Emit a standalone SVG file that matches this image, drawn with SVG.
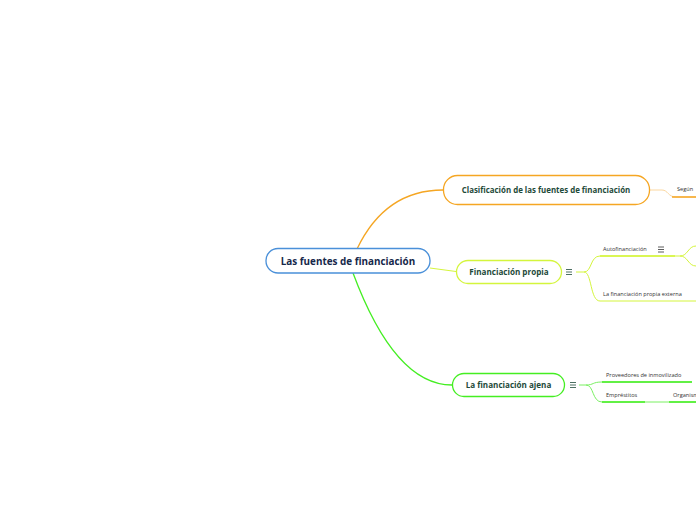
<svg xmlns="http://www.w3.org/2000/svg" width="696" height="520" viewBox="0 0 696 520">
<style>
.node{fill:#fff;stroke-width:1.3}
.t{font-family:"Open Sans","Noto Sans",sans-serif;font-weight:700;fill:#1e4a3a;text-anchor:middle}
.s{font-family:"Open Sans","Noto Sans",sans-serif;font-size:5.6px;fill:#333}
.c{fill:none}
.ic{stroke:#1e4a3a;stroke-width:0.8}
</style>
<rect width="696" height="520" fill="#fff"/>
<g id="connectors">
<path class="c" d="M357,249 C378,205 410,190 443,190" stroke="#f5a623" stroke-width="1.3"/>
<path class="c" d="M353,273 C378,340 410,385 452,385" stroke="#44ee22" stroke-width="1.3"/>
<path class="c" d="M430,268 L456,271.5" stroke="#d4f53c" stroke-width="1"/>
<path class="c" d="M650,190 L662,190 C668,190 668,197 676,197 L696,197" stroke="#fbd7a0" stroke-width="1"/>
<path class="c" d="M672,197 L696,197" stroke="#f5a623" stroke-width="1.5"/>
<path class="c" d="M576,272 L584,272 C592,272 590,256 600,256 L680,256" stroke="#d4f53c" stroke-width="1"/>
<path class="c" d="M584,272 C592,272 590,301 600,301 L696,301" stroke="#d4f53c" stroke-width="1"/>
<path class="c" d="M600,256 L675,256" stroke="#d4f53c" stroke-width="1.5"/>
<path class="c" d="M680,256 C688,256 688,246 696,246" stroke="#d4f53c" stroke-width="1"/>
<path class="c" d="M680,256 C688,256 688,266 696,266" stroke="#d4f53c" stroke-width="1"/>
<path class="c" d="M579,385 L586,385 C594,385 592,382 602,382 L692,382" stroke="#7af062" stroke-width="1"/>
<path class="c" d="M586,385 C594,385 592,402 602,402 L696,402" stroke="#7af062" stroke-width="1"/>
<path class="c" d="M602,382 L692,382" stroke="#44ee22" stroke-width="1.5"/>
<path class="c" d="M602,402 L645,402 M669,402 L696,402" stroke="#44ee22" stroke-width="1.5"/>
</g>
<g id="root">
<rect class="node" x="266" y="248.5" width="164" height="24.5" rx="12" stroke="#4a90d9"/>
<text x="348" y="264.5" class="t" style="font-size:9.9px;fill:#16284a">Las fuentes de financiación</text>
</g>
<g id="clasificacion">
<rect class="node" x="443.5" y="175.5" width="206" height="29" rx="14" stroke="#f5a623"/>
<text x="546" y="193" class="t" style="font-size:7.9px">Clasificación de las fuentes de financiación</text>
</g>
<g id="segun">
<text x="677" y="191" class="s">Según</text>
</g>
<g id="propia">
<rect class="node" x="456.5" y="260.5" width="105" height="23" rx="11.5" stroke="#d4f53c"/>
<text x="509" y="275" class="t" style="font-size:8.1px">Financiación propia</text>
<path class="ic" d="M566,269.5 h6 M566,272 h6 M566,274.5 h6"/>
</g>
<g id="autofinanciacion">
<text x="603" y="251" class="s">Autofinanciación</text>
<path class="ic" d="M658,247 h6 M658,249.5 h6 M658,252 h6" style="stroke:#333"/>
</g>
<g id="externa">
<text x="603" y="296" class="s">La financiación propia externa</text>
</g>
<g id="ajena">
<rect class="node" x="452.5" y="373.5" width="112" height="23" rx="11.5" stroke="#44ee22"/>
<text x="508.5" y="388" class="t" style="font-size:8.1px">La financiación ajena</text>
<path class="ic" d="M570,382.5 h6 M570,385 h6 M570,387.5 h6"/>
</g>
<g id="proveedores">
<text x="606" y="377" class="s">Proveedores de inmovilizado</text>
</g>
<g id="emprestitos">
<text x="606" y="397" class="s">Empréstitos</text>
</g>
<g id="organismos">
<text x="673" y="397" class="s">Organismos</text>
</g>
</svg>
